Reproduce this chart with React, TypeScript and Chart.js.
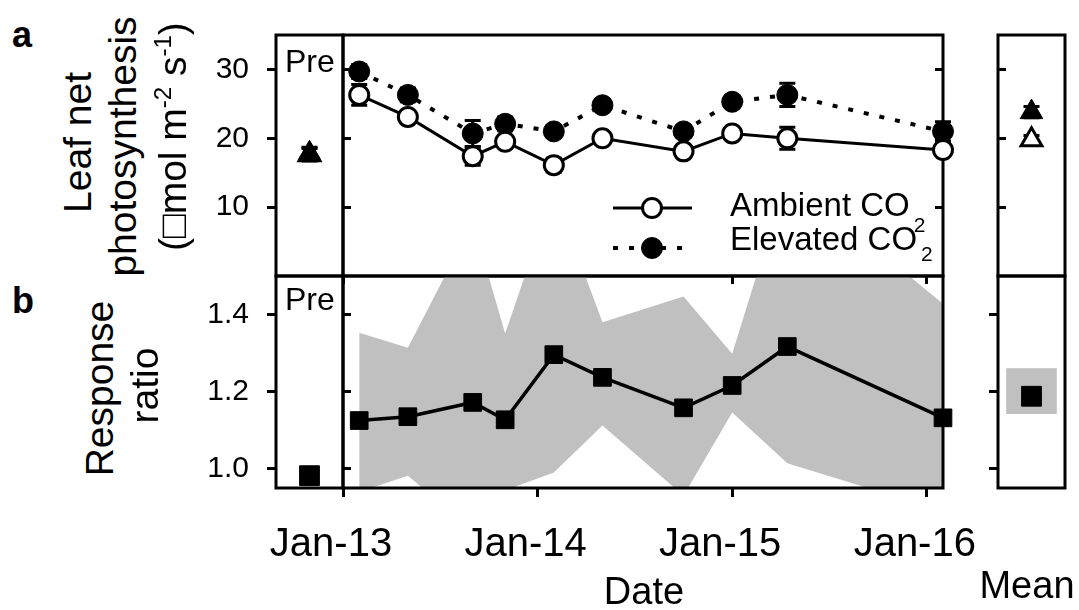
import React, { useEffect, useRef } from 'react';
import { Chart, registerables } from 'chart.js';

Chart.register(...registerables);

const FONT = '"Liberation Sans", Arial, Helvetica, sans-serif';
const BLACK = '#000000';
const GREY = '#c0c0c0';

// ---------------- data ----------------
// sampling dates, in months since January 2013
const sampleMonths = [1, 4, 8, 10, 13, 16, 21, 24, 27.4, 37];
const ambientCO2 = [26.3, 23.1, 17.4, 19.5, 16.1, 20.0, 18.1, 20.7, 20.0, 18.3];
const ambientErr = [1.5, 0.8, 1.3, 0.7, 1.0, 0.7, 0.7, 0.7, 1.6, 0.6];
const elevatedCO2 = [29.7, 26.3, 20.7, 22.1, 21.0, 24.8, 21.0, 25.3, 26.3, 21.0];
const elevatedErr = [1.0, 1.0, 1.9, 1.0, 0.8, 0.8, 0.8, 0.7, 1.7, 1.4];

const preCategory = ['Pre'];
const preAmbient = [17.6];
const preAmbientErr = [0.9];
const preElevated = [17.8];
const preElevatedErr = [0.9];

const meanCategory = ['Mean'];
const meanAmbient = [19.8];
const meanAmbientErr = [0.6];
const meanElevated = [23.8];
const meanElevatedErr = [0.8];

const responseRatio = [1.125, 1.135, 1.172, 1.127, 1.296, 1.237, 1.158, 1.216, 1.317, 1.132];
const ratioUpper = [1.353, 1.314, 1.64, 1.351, 1.72, 1.38, 1.447, 1.298, 1.76, 1.428];
const ratioLower = [0.94, 0.982, 0.84, 0.944, 0.99, 1.112, 0.93, 1.146, 1.014, 0.89];
const preRatio = [0.982];
const meanRatio = [1.188];
const meanRatioCI = [[1.143, 1.26]];

const photoTicks = [10, 20, 30];
const ratioTicks = [1.0, 1.2, 1.4];
const dateTicks = [0, 12, 24, 36];
const dateTickLabels = ['Jan-13', 'Jan-14', 'Jan-15', 'Jan-16'];

// ---------------- layout ----------------
const A_TOP = 35;
const AB = 276;
const B_BOT = 488;
const PRE_L = 276;
const MAIN_L = 343;
const MAIN_R = 943;
const MEAN_L = 998;
const MEAN_R = 1065;
const M = 90;

const PHOTO_MIN = 0;
const PHOTO_MAX = 35;
const RATIO_MIN = 0.95;
const RATIO_MAX = 1.5;
const DATE_MIN = 0;
const DATE_MAX = 37;

// ---------------- plugins ----------------
const errorBarPlugin = {
  id: 'errorBars',
  beforeDatasetsDraw(chart: any) {
    const ctx = chart.ctx;
    chart.data.datasets.forEach((ds: any, i: number) => {
      if (!ds.errors) return;
      const meta = chart.getDatasetMeta(i);
      const ys = chart.scales[meta.yAxisID];
      ctx.save();
      ctx.strokeStyle = BLACK;
      ctx.lineWidth = 3;
      meta.data.forEach((el: any, j: number) => {
        const e = ds.errors[j];
        if (!e) return;
        const raw = ds.data[j];
        const v = typeof raw === 'number' ? raw : raw.y;
        const y1 = ys.getPixelForValue(v + e);
        const y2 = ys.getPixelForValue(v - e);
        const x = el.x;
        const hw = 8;
        ctx.beginPath();
        ctx.moveTo(x, y1);
        ctx.lineTo(x, y2);
        ctx.moveTo(x - hw, y1);
        ctx.lineTo(x + hw, y1);
        ctx.moveTo(x - hw, y2);
        ctx.lineTo(x + hw, y2);
        ctx.stroke();
      });
      ctx.restore();
    });
  },
};

function strokeFrame(chart: any) {
  const { ctx, chartArea } = chart;
  ctx.save();
  ctx.strokeStyle = BLACK;
  ctx.lineWidth = 3;
  ctx.strokeRect(chartArea.left, chartArea.top, chartArea.right - chartArea.left, chartArea.bottom - chartArea.top);
  ctx.restore();
}
const frameBefore = { id: 'frameBefore', beforeDatasetsDraw: strokeFrame };
const frameAfter = { id: 'frameAfter', afterDatasetsDraw: strokeFrame };

const legendSymbols = {
  id: 'legendSymbols',
  afterDatasetsDraw(chart: any) {
    const { ctx, chartArea } = chart;
    const left = chartArea.left;
    const top = chartArea.top;
    const row = (y: number, dash: number[], lw: number, fill: string, r: number, bw: number) => {
      ctx.save();
      ctx.strokeStyle = BLACK;
      ctx.lineWidth = lw;
      ctx.lineCap = 'butt';
      ctx.setLineDash(dash);
      ctx.beginPath();
      ctx.moveTo(left + 270, top + y);
      ctx.lineTo(left + 349, top + y);
      ctx.stroke();
      ctx.setLineDash([]);
      ctx.beginPath();
      ctx.arc(left + 309, top + y, r, 0, Math.PI * 2);
      ctx.fillStyle = fill;
      ctx.fill();
      ctx.lineWidth = bw;
      ctx.stroke();
      ctx.restore();
    };
    row(173, [], 3, '#ffffff', 9.5, 3);
    row(213, [5, 11], 4, BLACK, 10.5, 1);
  },
};

// ---------------- scale helpers ----------------
function yAxis(
  min: number,
  max: number,
  values: number[],
  position: string,
  tickLength: number,
  size: number,
  labels: boolean,
  fmt?: (v: number) => string
) {
  return {
    type: 'linear',
    position,
    min,
    max,
    display: true,
    afterFit: (s: any) => {
      s.width = size;
    },
    afterBuildTicks: (s: any) => {
      s.ticks = values.map((v) => ({ value: v }));
    },
    grid: { drawOnChartArea: false, drawTicks: true, tickLength, tickWidth: 3, tickColor: BLACK },
    border: { display: false },
    ticks: {
      display: labels,
      padding: 18,
      color: BLACK,
      font: { family: FONT, size: 30 },
      callback: fmt ? (v: any) => fmt(Number(v)) : (v: any) => String(v),
    },
  };
}

function xDateAxis(position: string, tickLength: number, size: number, labels: boolean) {
  return {
    type: 'linear',
    position,
    min: DATE_MIN,
    max: DATE_MAX,
    display: true,
    afterFit: (s: any) => {
      s.height = size;
    },
    afterBuildTicks: (s: any) => {
      s.ticks = dateTicks.map((v) => ({ value: v }));
    },
    grid: { drawOnChartArea: false, drawTicks: true, tickLength, tickWidth: 3, tickColor: BLACK },
    border: { display: false },
    ticks: {
      display: labels,
      padding: 24,
      labelOffset: -12,
      maxRotation: 0,
      minRotation: 0,
      autoSkip: false,
      color: BLACK,
      font: { family: FONT, size: 40 },
      callback: (v: any) => dateTickLabels[dateTicks.indexOf(Number(v))],
    },
  };
}

const hiddenCategory = { type: 'category', display: false, offset: true };

// axisSizes: the room the visible axes take on each side, so that chart area = canvas minus M
function baseOptions(scales: any, axisSizes: any = {}) {
  return {
    responsive: false,
    maintainAspectRatio: false,
    animation: false,
    devicePixelRatio: 1,
    events: [],
    layout: {
      padding: {
        left: M - (axisSizes.left || 0),
        right: M - (axisSizes.right || 0),
        top: M - (axisSizes.top || 0),
        bottom: M - (axisSizes.bottom || 0),
      },
      autoPadding: false,
    },
    plugins: { legend: { display: false }, tooltip: { enabled: false } },
    scales,
  };
}

const pts = (ys: number[]) => ys.map((y, i) => ({ x: sampleMonths[i], y }));
const LABEL_W = 80;
const LABEL_H = 88;

// ---------------- chart configs ----------------
const preAConfig = () => ({
  type: 'line',
  data: {
    labels: preCategory,
    datasets: [
      {
        data: preElevated,
        errors: preElevatedErr,
        showLine: false,
        pointStyle: 'triangle',
        pointRadius: 13,
        pointBackgroundColor: BLACK,
        pointBorderColor: BLACK,
        pointBorderWidth: 1,
      },
      {
        data: preAmbient,
        errors: preAmbientErr,
        showLine: false,
        pointStyle: 'triangle',
        pointRadius: 12,
        pointBackgroundColor: '#ffffff',
        pointBorderColor: BLACK,
        pointBorderWidth: 3,
      },
    ],
  },
  options: baseOptions(
    {
      x: hiddenCategory,
      y: yAxis(PHOTO_MIN, PHOTO_MAX, photoTicks, 'left', 9, LABEL_W, true),
    },
    { left: LABEL_W }
  ),
  plugins: [errorBarPlugin, frameAfter],
});

const mainAConfig = () => ({
  type: 'line',
  data: {
    datasets: [
      {
        label: 'Ambient CO2',
        data: pts(ambientCO2),
        errors: ambientErr,
        borderColor: BLACK,
        borderWidth: 3,
        pointStyle: 'circle',
        pointRadius: 9.5,
        pointBackgroundColor: '#ffffff',
        pointBorderColor: BLACK,
        pointBorderWidth: 3,
        clip: false,
      },
      {
        label: 'Elevated CO2',
        data: pts(elevatedCO2),
        errors: elevatedErr,
        borderColor: BLACK,
        borderWidth: 4,
        borderDash: [5, 11],
        borderCapStyle: 'butt',
        pointStyle: 'circle',
        pointRadius: 10.5,
        pointBackgroundColor: BLACK,
        pointBorderColor: BLACK,
        pointBorderWidth: 1,
        clip: false,
      },
    ],
  },
  options: baseOptions({
    x: { type: 'linear', display: false, min: DATE_MIN, max: DATE_MAX },
    y: yAxis(PHOTO_MIN, PHOTO_MAX, photoTicks, 'left', -8, 0, false),
    y2: yAxis(PHOTO_MIN, PHOTO_MAX, photoTicks, 'right', -8, 0, false),
  }),
  plugins: [frameBefore, errorBarPlugin, legendSymbols],
});

const meanAConfig = () => ({
  type: 'line',
  data: {
    labels: meanCategory,
    datasets: [
      {
        data: meanElevated,
        errors: meanElevatedErr,
        showLine: false,
        pointStyle: 'triangle',
        pointRadius: 13,
        pointBackgroundColor: BLACK,
        pointBorderColor: BLACK,
        pointBorderWidth: 1,
      },
      {
        data: meanAmbient,
        errors: meanAmbientErr,
        showLine: false,
        pointStyle: 'triangle',
        pointRadius: 12,
        pointBackgroundColor: '#ffffff',
        pointBorderColor: BLACK,
        pointBorderWidth: 3,
      },
    ],
  },
  options: baseOptions({
    x: hiddenCategory,
    y: yAxis(PHOTO_MIN, PHOTO_MAX, photoTicks, 'left', -8, 0, false),
  }),
  plugins: [errorBarPlugin, frameAfter],
});

const fmt1 = (v: number) => v.toFixed(1);

const preBConfig = () => ({
  type: 'line',
  data: {
    labels: preCategory,
    datasets: [
      {
        data: preRatio,
        showLine: false,
        pointStyle: 'rect',
        pointRadius: 14,
        pointBackgroundColor: BLACK,
        pointBorderColor: BLACK,
        pointBorderWidth: 1,
      },
    ],
  },
  options: baseOptions(
    {
      x: hiddenCategory,
      y: yAxis(RATIO_MIN, RATIO_MAX, ratioTicks, 'left', 9, LABEL_W, true, fmt1),
    },
    { left: LABEL_W }
  ),
  plugins: [frameAfter],
});

const mainBConfig = () => ({
  type: 'line',
  data: {
    datasets: [
      {
        data: pts(responseRatio),
        borderColor: BLACK,
        borderWidth: 3.5,
        pointStyle: 'rect',
        pointRadius: 12.5,
        pointBackgroundColor: BLACK,
        pointBorderColor: BLACK,
        pointBorderWidth: 1,
        clip: false,
      },
      {
        data: pts(ratioUpper),
        borderWidth: 0,
        pointRadius: 0,
        backgroundColor: GREY,
        fill: '+1',
      },
      {
        data: pts(ratioLower),
        borderWidth: 0,
        pointRadius: 0,
        fill: false,
      },
    ],
  },
  options: baseOptions(
    {
      x: xDateAxis('bottom', 9, LABEL_H, true),
      x2: xDateAxis('top', -8, 0, false),
      y: yAxis(RATIO_MIN, RATIO_MAX, ratioTicks, 'left', -8, 0, false),
    },
    { bottom: LABEL_H }
  ),
  plugins: [frameAfter],
});

const meanBConfig = () => ({
  type: 'bar',
  data: {
    labels: meanCategory,
    datasets: [
      {
        type: 'line',
        data: meanRatio,
        showLine: false,
        pointStyle: 'rect',
        pointRadius: 14,
        pointBackgroundColor: BLACK,
        pointBorderColor: BLACK,
        pointBorderWidth: 1,
      },
      {
        type: 'bar',
        data: meanRatioCI,
        backgroundColor: GREY,
        borderWidth: 0,
        barThickness: 50,
      },
    ],
  },
  options: baseOptions({
    x: hiddenCategory,
    y: yAxis(RATIO_MIN, RATIO_MAX, ratioTicks, 'left', 9, 0, false),
  }),
  plugins: [frameAfter],
});

// ---------------- components ----------------
type Box = { l: number; t: number; r: number; b: number };

function PanelChart({ box, make }: { box: Box; make: () => any }) {
  const ref = useRef<HTMLCanvasElement | null>(null);
  useEffect(() => {
    const chart = new Chart(ref.current as HTMLCanvasElement, make() as any);
    return () => chart.destroy();
  }, []);
  const w = box.r - box.l + 2 * M;
  const h = box.b - box.t + 2 * M;
  return (
    <canvas
      ref={ref}
      width={w}
      height={h}
      style={{ position: 'absolute', left: box.l - M, top: box.t - M, width: w, height: h }}
    />
  );
}

function Label({ x, base, size, anchor = 'start', bold = false, children }: any) {
  const style: any = {
    position: 'absolute',
    top: base - 0.8465 * size,
    left: x,
    fontSize: size,
    lineHeight: `${size}px`,
    fontFamily: FONT,
    fontWeight: bold ? 'bold' : 'normal',
    whiteSpace: 'nowrap',
    color: BLACK,
  };
  if (anchor === 'middle') style.transform = 'translateX(-50%)';
  return <div style={style}>{children}</div>;
}

function RotLine({ cx, cy, size, children }: any) {
  const W = 420;
  const H = Math.round(size * 1.3);
  return (
    <div
      style={{
        position: 'absolute',
        left: cx - W / 2,
        top: cy - H / 2,
        width: W,
        height: H,
        lineHeight: `${H}px`,
        fontSize: size,
        fontFamily: FONT,
        textAlign: 'center',
        transform: 'rotate(-90deg)',
        whiteSpace: 'nowrap',
        color: BLACK,
      }}
    >
      {children}
    </div>
  );
}

const Sub = ({ drop, children }: any) => (
  <span style={{ fontSize: 21, lineHeight: '21px', position: 'relative', top: drop, marginLeft: 4 }}>{children}</span>
);
const Sup = ({ children }: any) => (
  <span style={{ fontSize: 24, lineHeight: '24px', position: 'relative', top: -15 }}>{children}</span>
);

export default function App() {
  return (
    <div
      style={{
        position: 'fixed',
        left: 0,
        top: 0,
        width: 1079,
        height: 610,
        overflow: 'hidden',
        background: '#ffffff',
      }}
    >
      <PanelChart box={{ l: PRE_L, t: A_TOP, r: MAIN_L, b: AB }} make={preAConfig} />
      <PanelChart box={{ l: MAIN_L, t: A_TOP, r: MAIN_R, b: AB }} make={mainAConfig} />
      <PanelChart box={{ l: MEAN_L, t: A_TOP, r: MEAN_R, b: AB }} make={meanAConfig} />
      <PanelChart box={{ l: PRE_L, t: AB, r: MAIN_L, b: B_BOT }} make={preBConfig} />
      <PanelChart box={{ l: MAIN_L, t: AB, r: MAIN_R, b: B_BOT }} make={mainBConfig} />
      <PanelChart box={{ l: MEAN_L, t: AB, r: MEAN_R, b: B_BOT }} make={meanBConfig} />

      <Label x={12} base={47} size={36} bold>a</Label>
      <Label x={12} base={313} size={36} bold>b</Label>

      <RotLine cx={77} cy={142} size={39}>Leaf net</RotLine>
      <RotLine cx={122} cy={146} size={39}>photosynthesis</RotLine>
      <RotLine cx={172} cy={136} size={39}>
        (□mol m<Sup>-2</Sup> s<Sup>-1</Sup>)
      </RotLine>
      <RotLine cx={99} cy={388} size={39}>Response</RotLine>
      <RotLine cx={144} cy={385} size={39}>ratio</RotLine>

      <Label x={285} base={72} size={32}>Pre</Label>
      <Label x={285} base={310} size={32}>Pre</Label>

      <Label x={730} base={216} size={33}>
        Ambient CO<Sub drop={16}>2</Sub>
      </Label>
      <Label x={730} base={250} size={33}>
        Elevated CO<Sub drop={11}>2</Sub>
      </Label>

      <Label x={644} base={604} size={38} anchor="middle">Date</Label>
      <Label x={1027} base={598} size={38} anchor="middle">Mean</Label>
    </div>
  );
}
